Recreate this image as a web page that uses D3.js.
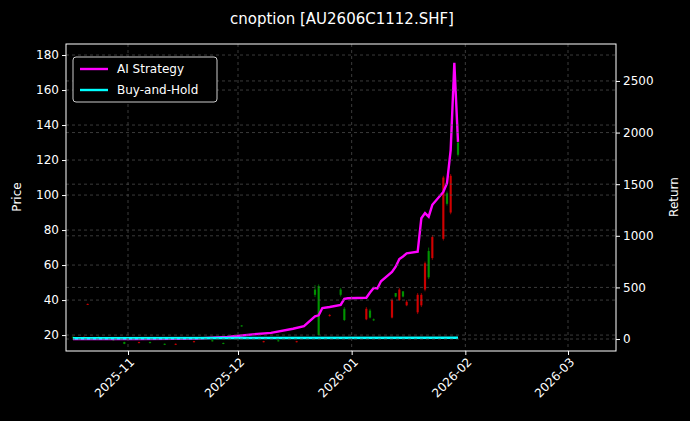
<!DOCTYPE html>
<html><head><meta charset="utf-8">
<script src="https://cdn.jsdelivr.net/npm/d3@7"></script>
<style>body{margin:0;background:#000}</style></head>
<body><svg id="c" width="690" height="421"></svg>
<script>
const title = "cnoption [AU2606C1112.SHF]";
const priceTicks = [20,40,60,80,100,120,140,160,180];
const returnTicks = [0,500,1000,1500,2000,2500];
const dateTicks = ["2025-11-01","2025-12-01","2026-01-01","2026-02-01","2026-03-01"];
// candles
const candleDates = ["2025-10-17","2025-10-20","2025-10-21","2025-10-24","2025-10-28","2025-10-31","2025-11-04","2025-11-07","2025-11-11","2025-11-14","2025-11-19","2025-11-24","2025-11-27","2025-12-02","2025-12-08","2025-12-12","2025-12-17",
"2025-12-22","2025-12-23","2025-12-26","2025-12-29","2025-12-30","2026-01-05","2026-01-06","2026-01-07","2026-01-12","2026-01-13","2026-01-14","2026-01-15","2026-01-16","2026-01-19","2026-01-20","2026-01-21","2026-01-22","2026-01-23","2026-01-26","2026-01-27","2026-01-28","2026-01-30"];
const candleOpen =  [19,18.5,37.5,19,18,16,15.5,16,15,14.5,16,17,15.5,25.5,16,17,16,  46,48,31,46,35,29,34,29,30,44,40,45,37,33,37,46,68,64,75,101,90,130];
const candleClose = [18.5,19,37.8,18,17,15,16,15.5,14.5,15,16.5,16.5,15,25,16.5,16.5,16.5, 43,20,31.5,43,28.6,35,30,28.5,40,42,46,42,39,43,43,61,53,76,110,95,111,123];
const candleHigh =  [19.2,19.2,38,19.2,18.2,16.2,16.2,16.2,15.2,15.2,16.7,17.2,15.7,25.7,16.7,17.2,16.7, 48.6,49,32,47,36,36,35,29.5,41,44,47,45,40,44,44,62,70,77,111,102,112,131];
const candleLow =   [18.3,18.3,37.3,17.8,16.8,14.8,15.3,15.3,14.3,14.3,15.8,16.3,14.8,24.8,15.8,16.3,15.8, 41.7,20,30.5,42,28,28.5,29.5,28,29.5,41.5,39.5,41.5,36.5,32,36,45,52,63,74,94,89,122];
// strategy return
const retDates = ["2025-10-17","2025-11-03","2025-11-14","2025-11-20","2025-11-28","2025-12-05","2025-12-10","2025-12-16","2025-12-19","2025-12-22","2025-12-23","2025-12-24","2025-12-26","2025-12-29","2025-12-30","2025-12-31","2026-01-05","2026-01-06","2026-01-07","2026-01-08","2026-01-09","2026-01-12","2026-01-13","2026-01-14","2026-01-15","2026-01-16","2026-01-19","2026-01-20","2026-01-21","2026-01-22","2026-01-23","2026-01-26","2026-01-27","2026-01-28","2026-01-29","2026-01-30"];
const retValues = [0,0,2,5,20,45,60,100,125,220,230,300,310,330,390,395,400,450,495,490,560,650,700,775,800,830,845,1170,1220,1185,1300,1425,1510,1830,2675,1910];
const bhDates = ["2025-10-17","2026-01-30"];
const bhValues = [8,12];

const svg = d3.select("#c");
svg.append("rect").attr("width",690).attr("height",421).attr("fill","#000");
const L=66,R=616,T=44,B=351;
const pd = d3.timeParse("%Y-%m-%d");
const x = d3.scaleTime().domain([pd("2025-11-01"), pd("2026-03-01")]).range([128,568]);
x.domain([x.invert(L), x.invert(R)]).range([L,R]);
const y = d3.scaleLinear().domain([10.9,186.3]).range([B,T]);
const y2 = d3.scaleLinear().domain([-116,2858]).range([B,T]);

const g = svg.append("g");
const grid = svg.append("g").attr("stroke","#555").attr("stroke-dasharray","3,3").attr("stroke-width",0.7);
dateTicks.forEach(d=>grid.append("line").attr("x1",x(pd(d))).attr("x2",x(pd(d))).attr("y1",T).attr("y2",B));
priceTicks.forEach(v=>grid.append("line").attr("x1",L).attr("x2",R).attr("y1",y(v)).attr("y2",y(v)));
returnTicks.forEach(v=>grid.append("line").attr("x1",L).attr("x2",R).attr("y1",y2(v)).attr("y2",y2(v)));

const cw = 2.2;
candleDates.forEach((d,i)=>{
  const cx = x(pd(d)), o=candleOpen[i], c=candleClose[i];
  const col = c>=o ? "#e00000" : "#00a000";
  g.append("line").attr("x1",cx).attr("x2",cx).attr("y1",y(candleHigh[i])).attr("y2",y(candleLow[i])).attr("stroke",col).attr("stroke-width",0.8).attr("opacity",0.8);
  const top=y(Math.max(o,c)), h=Math.max(1,Math.abs(y(o)-y(c)));
  g.append("rect").attr("x",cx-cw/2).attr("y",top).attr("width",cw).attr("height",h).attr("fill",col).attr("opacity",0.85);
});

const line = d3.line().x(d=>x(pd(d[0]))).y(d=>y2(d[1]));
g.append("path").datum(retDates.map((d,i)=>[d,retValues[i]])).attr("d",line).attr("fill","none").attr("stroke","#ff00ff").attr("stroke-width",2.4);
g.append("path").datum(bhDates.map((d,i)=>[d,bhValues[i]])).attr("d",line).attr("fill","none").attr("stroke","#00ffff").attr("stroke-width",2.4);

const font="DejaVu Sans";
const ax = svg.append("g").attr("transform",`translate(0,${B})`).call(d3.axisBottom(x).tickValues(dateTicks.map(pd)).tickFormat(d3.timeFormat("%Y-%m")).tickSize(4).tickSizeOuter(0));
ax.selectAll("text").attr("fill","#fff").style("font-family",font).style("font-size","12px").attr("text-anchor","end").attr("transform","rotate(-45)").attr("dx","-0.3em").attr("dy","0.5em");
const ay = svg.append("g").attr("transform",`translate(${L},0)`).call(d3.axisLeft(y).tickValues(priceTicks).tickSize(4).tickSizeOuter(0));
ay.selectAll("text").attr("fill","#fff").style("font-family",font).style("font-size","12px");
const ay2 = svg.append("g").attr("transform",`translate(${R},0)`).call(d3.axisRight(y2).tickValues(returnTicks).tickFormat(d3.format("d")).tickSize(4).tickSizeOuter(0));
ay2.selectAll("text").attr("fill","#fff").style("font-family",font).style("font-size","12px");
[ax,ay,ay2].forEach(a=>{a.selectAll("line").attr("stroke","#fff");a.select(".domain").attr("stroke","none");});
svg.append("rect").attr("x",L).attr("y",T).attr("width",R-L).attr("height",B-T).attr("fill","none").attr("stroke","#fff").attr("stroke-width",1);

svg.append("text").attr("x",342).attr("y",24).attr("text-anchor","middle").attr("fill","#fff").style("font-family",font).style("font-size","15px").text(title);
svg.append("text").attr("transform","translate(21,197) rotate(-90)").attr("text-anchor","middle").attr("fill","#fff").style("font-family",font).style("font-size","12px").text("Price");
svg.append("text").attr("transform","translate(678,197) rotate(-90)").attr("text-anchor","middle").attr("fill","#fff").style("font-family",font).style("font-size","12px").text("Return");

const lg = svg.append("g");
lg.append("rect").attr("x",73).attr("y",57).attr("width",144).attr("height",45).attr("rx",3).attr("fill","#000").attr("stroke","#ccc");
[["AI Strategy","#ff00ff",69],["Buy-and-Hold","#00ffff",90]].forEach(([t,c,yy])=>{
  lg.append("line").attr("x1",80).attr("x2",108).attr("y1",yy).attr("y2",yy).attr("stroke",c).attr("stroke-width",2.4);
  lg.append("text").attr("x",117).attr("y",yy+4).attr("fill","#fff").style("font-family",font).style("font-size","12px").text(t);
});
</script></body></html>
